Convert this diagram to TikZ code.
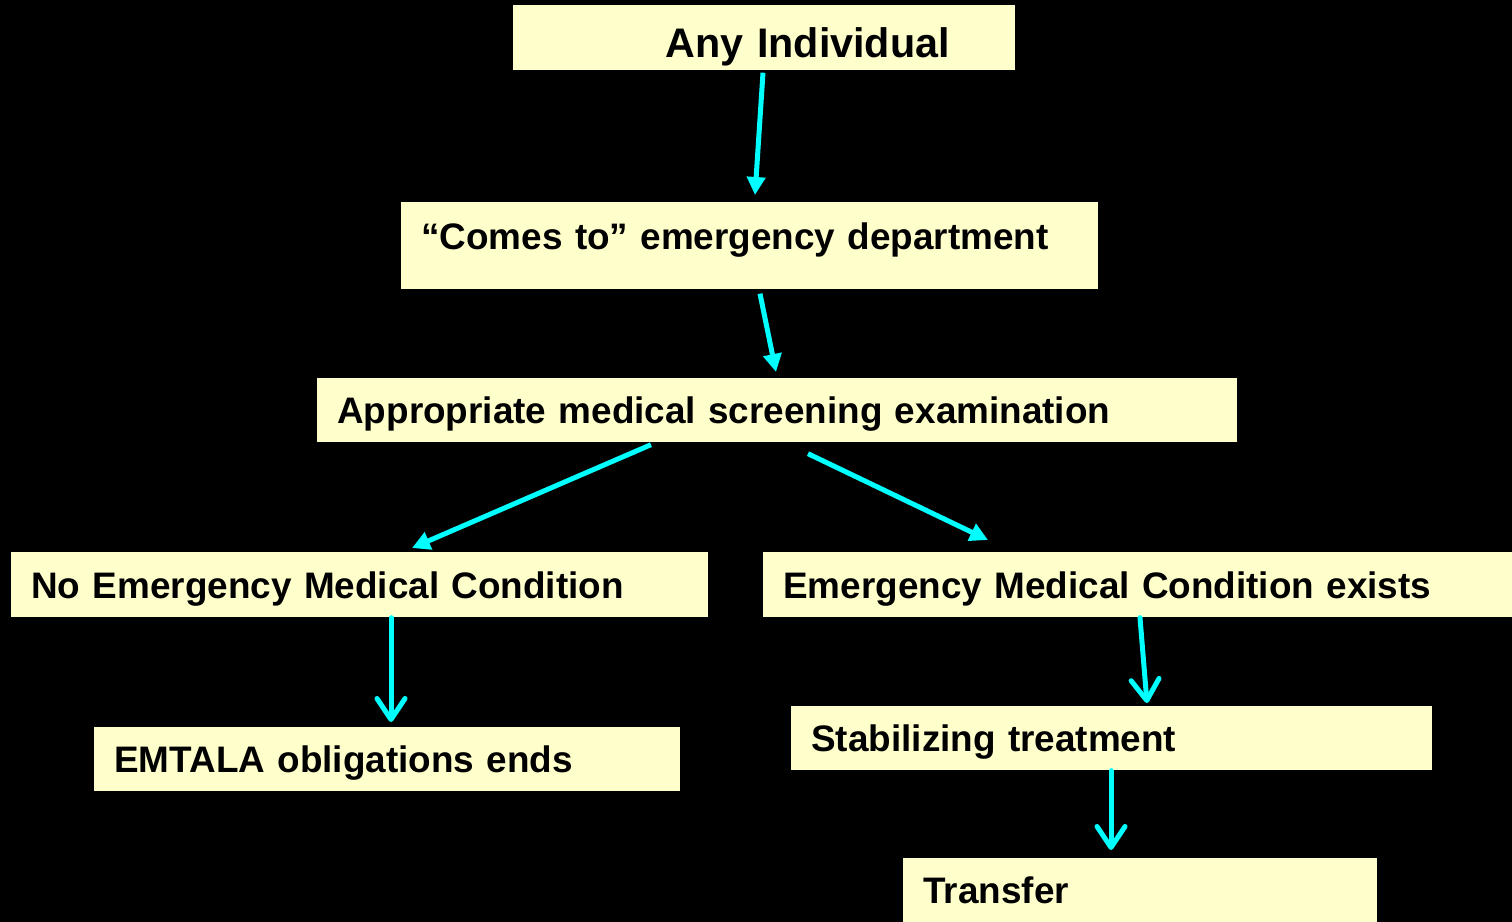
\documentclass[tikz,border=0pt]{standalone}
\usepackage{fontspec}
\setmainfont{Liberation Sans}
\usepackage{xcolor}
\usepackage{tikz}
\usetikzlibrary{arrows.meta}

\definecolor{boxyellow}{HTML}{FFFFCC}
\definecolor{flowcyan}{HTML}{00FFFF}

\begin{document}
\begin{tikzpicture}[x=0.02cm, y=-0.02cm,
    box/.style={fill=boxyellow, anchor=north west, align=left, inner xsep=0.4cm, inner ysep=0pt,
        font=\bfseries\fontsize{21pt}{25pt}\selectfont, text height=0.6cm, text depth=0.07cm},
    tri/.style={flowcyan, line width=0.1cm, -{Triangle[length=0.36cm, width=0.36cm]}},
    barb/.style={flowcyan, line width=0.1cm, line cap=round,
        -{Straight Barb[round, length=0.42cm, width=0.56cm]}}]
    \fill[black] (0,0) rectangle (1512,922);
    \useasboundingbox (0,0) rectangle (1512,922);

    % boxes
    \node[box, text width=9.24cm, minimum height=1.3cm, font=\bfseries\fontsize{23.5pt}{28pt}\selectfont,
        text height=0.85cm, text depth=0.07cm]
        (any) at (513,5) {\hspace*{2.64cm}Any Individual};
    \node[box, text width=13.14cm, minimum height=1.74cm, text depth=0.46cm]
        (comes) at (401,202) {``Comes to'' emergency department};
    \node[box, text width=17.6cm, minimum height=1.28cm]
        (screen) at (317,378) {Appropriate medical screening examination};
    \node[box, text width=13.14cm, minimum height=1.3cm]
        (noemc) at (11,552) {No Emergency Medical Condition};
    \node[box, text width=14.18cm, minimum height=1.3cm]
        (emc) at (763,552) {Emergency Medical Condition exists};
    \node[box, text width=10.92cm, minimum height=1.28cm]
        (ends) at (94,727) {EMTALA obligations ends};
    \node[box, text width=12.02cm, minimum height=1.28cm]
        (stab) at (791,706) {Stabilizing treatment};
    \node[box, text width=8.68cm, minimum height=1.28cm]
        (transfer) at (903,858) {Transfer};

    % arrows
    \draw[tri] ([shift={(250,2)}]any.south west) -- ([shift={(354,-7)}]comes.north west);
    \draw[tri] ([shift={(359,4)}]comes.south west) -- ([shift={(459,-6)}]screen.north west);
    \draw[tri] ([shift={(334,2)}]screen.south west) -- ([shift={(401,-4)}]noemc.north west);
    \draw[tri] ([shift={(491,11)}]screen.south west) -- ([shift={(225,-12)}]emc.north west);
    \draw[barb] ([shift={(380,0)}]noemc.south west) -- ([shift={(297,-5)}]ends.north west);
    \draw[barb] ([shift={(377,0)}]emc.south west) -- ([shift={(356,-3)}]stab.north west);
    \draw[barb] ([shift={(320,0)}]stab.south west) -- ([shift={(208,-8)}]transfer.north west);
\end{tikzpicture}
\end{document}
